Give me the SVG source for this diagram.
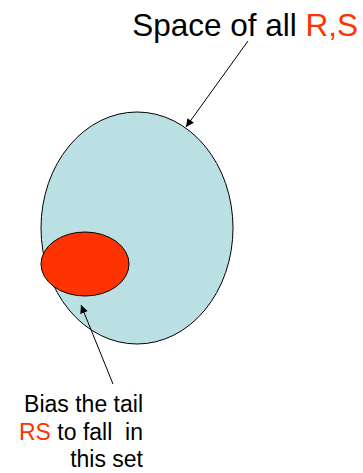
<svg xmlns="http://www.w3.org/2000/svg" width="363" height="473" viewBox="0 0 363 473">
<style>
text{font-family:"Liberation Sans",Arial,sans-serif;fill:#000}
.red{fill:#FF3300}
.conn{stroke:#000;stroke-width:1;fill:none}
</style>
<defs>
<marker id="ah" viewBox="0 0 10 10" refX="10" refY="5" markerWidth="10" markerHeight="8" markerUnits="userSpaceOnUse" orient="auto">
<path d="M0,0 L10,5 L0,10 z" fill="#000"/>
</marker>
</defs>
<rect width="363" height="473" fill="#fff"/>
<g id="space">
<ellipse cx="137" cy="228" rx="96" ry="116" fill="#BBE0E3" stroke="#000" stroke-width="1"/>
</g>
<g id="tailset">
<ellipse cx="85" cy="264" rx="44" ry="32" fill="#FF3300" stroke="#000" stroke-width="1"/>
</g>
<g id="connectors">
<line class="conn" x1="248" y1="41" x2="186" y2="127" marker-end="url(#ah)"/>
<line class="conn" x1="113" y1="384" x2="81" y2="305" marker-end="url(#ah)"/>
</g>
<g id="title">
<text x="358" y="36" font-size="31.5" text-anchor="end">Space of all <tspan class="red">R,S</tspan></text>
</g>
<g id="caption">
<text x="143" y="412" font-size="23" text-anchor="end">Bias the tail</text>
<text x="143" y="440" font-size="23" text-anchor="end" xml:space="preserve"><tspan class="red">RS</tspan> to fall  in</text>
<text x="143" y="467" font-size="23" text-anchor="end">this set</text>
</g>
</svg>
